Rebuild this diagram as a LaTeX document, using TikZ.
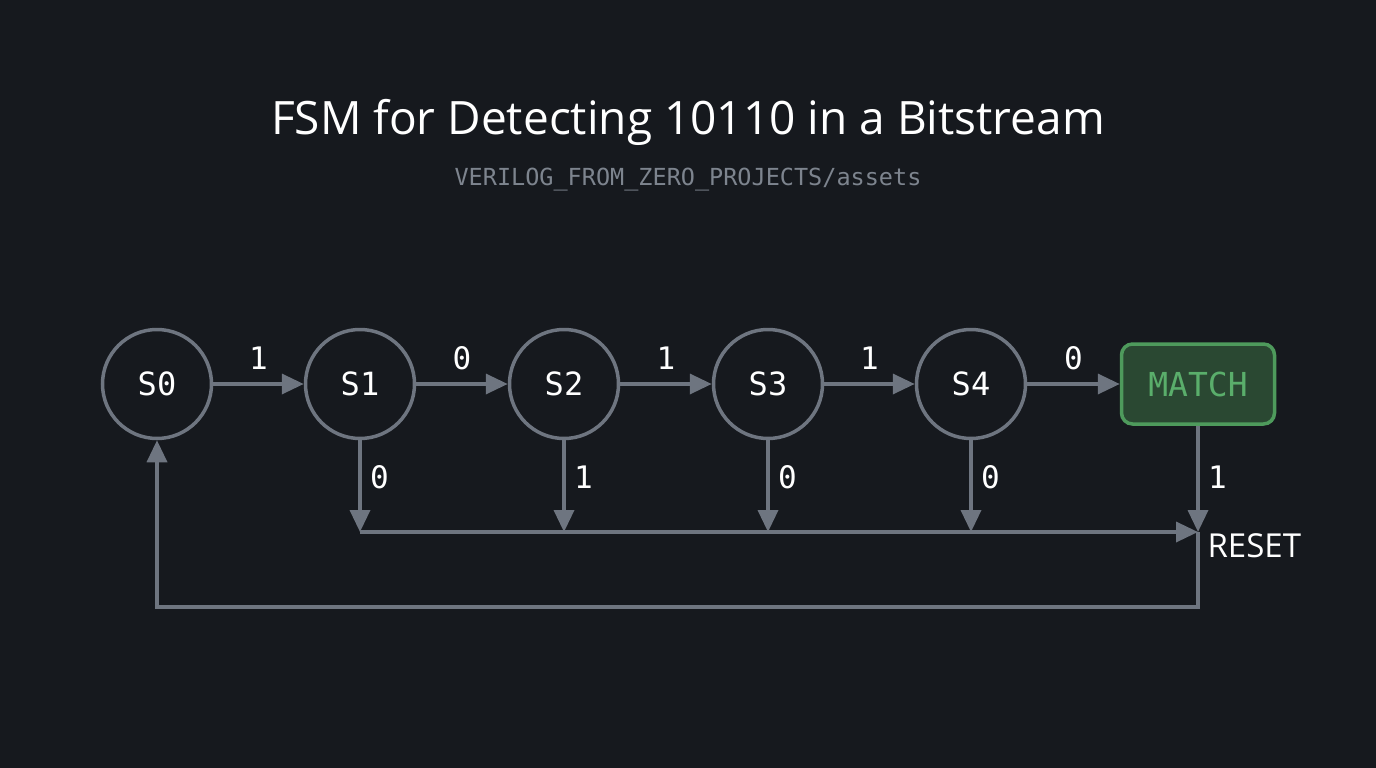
\documentclass[tikz,border=0pt]{standalone}
\usepackage{fontspec}
\setmainfont{Open Sans}
\newfontfamily\monof{DejaVu Sans Mono}
\usetikzlibrary{arrows.meta}
\definecolor{bg}{HTML}{16191E}
\definecolor{ln}{HTML}{6E7580}
\definecolor{sub}{HTML}{7D848E}
\definecolor{gbord}{HTML}{4E9A5C}
\definecolor{gfill}{HTML}{2A4832}
\definecolor{gtext}{HTML}{5AAE6B}
\tikzset{
  state/.style={circle, draw=ln, line width=3.5pt, minimum size=109pt, inner sep=0pt, text=white, font=\monof\fontsize{32}{34}\selectfont},
  matchbox/.style={draw=gbord, fill=gfill, line width=3.5pt, rounded corners=11pt, minimum width=153pt, minimum height=80pt, text=gtext, font=\monof\fontsize{33}{35}\selectfont},
  conn/.style={draw=ln, line width=3.5pt, -{Triangle[length=22pt,width=20pt]}},
  lbl/.style={text=white, font=\monof\fontsize{31}{33}\selectfont},
}
\begin{document}
\begin{tikzpicture}[x=1pt,y=-1pt]
\fill[bg] (0,0) rectangle (1376,768);
\useasboundingbox (0,0) rectangle (1376,768);
\node[text=white, font=\fontsize{46}{50}\selectfont] (title) at (688,122) {FSM for Detecting 10110 in a Bitstream};
\node[text=sub, font=\monof\fontsize{23.5}{26}\selectfont] (subt) at (688,180) {VERILOG\_FROM\_ZERO\_PROJECTS/assets};
\node[state] (s0) at (157,384) {S0};
\node[state] (s1) at (360,384) {S1};
\node[state] (s2) at (564,384) {S2};
\node[state] (s3) at (768,384) {S3};
\node[state] (s4) at (971,384) {S4};
\node[matchbox] (m) at (1198,384) {MATCH};
\draw[conn] (s0) -- node[lbl, above=9pt] {1} (s1);
\draw[conn] (s1) -- node[lbl, above=9pt] {0} (s2);
\draw[conn] (s2) -- node[lbl, above=9pt] {1} (s3);
\draw[conn] (s3) -- node[lbl, above=9pt] {1} (s4);
\draw[conn] (s4) -- node[lbl, above=9pt] {0} (m);
\coordinate (b1) at (360,532);
\coordinate (b2) at (564,532);
\coordinate (b3) at (768,532);
\coordinate (b4) at (971,532);
\coordinate (r) at (1198,532);
\coordinate (c1) at (1198,607);
\coordinate (c2) at (157,607);
\draw[conn] (s1) -- node[lbl, right=5pt, pos=0.4] {0} (b1);
\draw[conn] (s2) -- node[lbl, right=5pt, pos=0.4] {1} (b2);
\draw[conn] (s3) -- node[lbl, right=5pt, pos=0.4] {0} (b3);
\draw[conn] (s4) -- node[lbl, right=5pt, pos=0.4] {0} (b4);
\draw[conn] (m) -- node[lbl, right=5pt, pos=0.48] {1} (r);
\draw[conn] (b1) -- (r);
\node[text=white, anchor=west, font=\fontsize{33}{36}\selectfont] (reset) at (1204,546) {RESET};
\draw[conn] (r) -- (c1) -- (c2) -- (s0);
\end{tikzpicture}
\end{document}
